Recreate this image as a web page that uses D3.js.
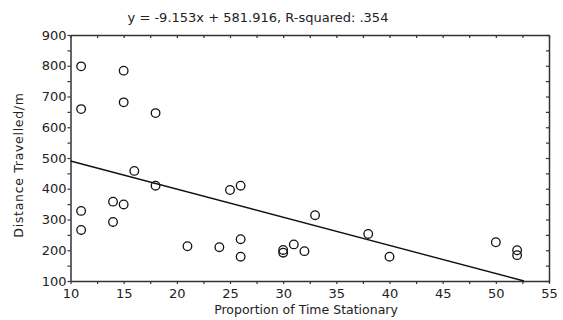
<!DOCTYPE html>
<html lang="en">
<head>
<meta charset="UTF-8">
<title>Distance vs Time Stationary</title>
<script src="https://cdn.jsdelivr.net/npm/d3@7"></script>
<style>
  body { margin: 0; background: #fff; }
  text { font-family: "DejaVu Sans", sans-serif; fill: #222; }
</style>
</head>
<body>
<script>
const stationary = [11, 11, 15, 15, 18, 11, 11, 14, 14, 15, 16, 18, 21, 24, 25, 26, 26, 26, 30, 30, 31, 32, 33, 38, 40, 50, 52, 52];
const distance = [798, 659, 784, 681, 646, 328, 266, 358, 292, 349, 458, 410, 213, 210, 396, 410, 236, 179, 201, 192, 219, 197, 314, 253, 179, 226, 200, 184];
const xTicks = [10, 15, 20, 25, 30, 35, 40, 45, 50, 55];
const yTicks = [100, 200, 300, 400, 500, 600, 700, 800, 900];
const slope = -9.153, intercept = 581.916;
const title = "y = -9.153x + 581.916, R-squared: .354";

const width = 563, height = 320;
const m = { left: 70.5, right: 14, top: 35, bottom: 39 };

const svg = d3.select("body").append("svg")
    .attr("width", width)
    .attr("height", height);

const x = d3.scaleLinear().domain([10, 55]).range([m.left, width - m.right]);
const y = d3.scaleLinear().domain([100, 900]).range([height - m.bottom, m.top]);

const minorX = d3.range(10, 55.01, 2.5);
const minorY = d3.range(100, 900.01, 50);

const style = g => {
    g.select(".domain").attr("stroke", "#333").attr("stroke-width", 1.5);
    g.selectAll(".tick line").attr("stroke", "#333").attr("stroke-width", 1.2);
};

// bottom + left frame with labels
svg.append("g")
    .attr("transform", `translate(0,${y(100)})`)
    .call(d3.axisBottom(x).tickValues(minorX).tickSize(3).tickSizeOuter(0).tickFormat(""))
    .call(style);
svg.append("g")
    .attr("transform", `translate(0,${y(100)})`)
    .call(d3.axisBottom(x).tickValues(xTicks).tickSize(0).tickPadding(8).tickFormat(d3.format("d")))
    .call(g => g.select(".domain").remove())
    .call(g => g.selectAll("text").style("font-size", "13px"));

svg.append("g")
    .attr("transform", `translate(${x(10)},0)`)
    .call(d3.axisLeft(y).tickValues(minorY).tickSize(3).tickSizeOuter(0).tickFormat(""))
    .call(style);
svg.append("g")
    .attr("transform", `translate(${x(10)},0)`)
    .call(d3.axisLeft(y).tickValues(yTicks).tickSize(0).tickPadding(4).tickFormat(d3.format("d")))
    .call(g => g.select(".domain").remove())
    .call(g => g.selectAll("text").style("font-size", "13px"));

// top + right frame, ticks only
svg.append("g")
    .attr("transform", `translate(0,${y(900)})`)
    .call(d3.axisBottom(x).tickValues(minorX).tickSize(3).tickSizeOuter(0).tickFormat(""))
    .call(style);

svg.append("g")
    .attr("transform", `translate(${x(55)},0)`)
    .call(d3.axisLeft(y).tickValues(minorY).tickSize(3).tickSizeOuter(0).tickFormat(""))
    .call(style);

// regression line, clipped to the plot frame
const xEnd = Math.min(55, (100 - intercept) / slope);
svg.append("line")
    .attr("x1", x(10)).attr("y1", y(slope * 10 + intercept))
    .attr("x2", x(xEnd)).attr("y2", y(slope * xEnd + intercept))
    .attr("stroke", "#111")
    .attr("stroke-width", 1.4);

svg.append("g")
    .selectAll("circle")
    .data(stationary.map((s, i) => [s, distance[i]]))
    .join("circle")
    .attr("cx", d => x(d[0]))
    .attr("cy", d => y(d[1]))
    .attr("r", 4.3)
    .attr("fill", "none")
    .attr("stroke", "#111")
    .attr("stroke-width", 1.3);

svg.append("text")
    .attr("x", 258)
    .attr("y", 22)
    .attr("text-anchor", "middle")
    .style("font-size", "13px")
    .text(title);

svg.append("text")
    .attr("x", 306)
    .attr("y", 314)
    .attr("text-anchor", "middle")
    .style("font-size", "12.5px")
    .text("Proportion of Time Stationary");

svg.append("text")
    .attr("transform", `translate(23,165) rotate(-90)`)
    .attr("text-anchor", "middle")
    .style("font-size", "12.5px")
    .style("letter-spacing", "0.7px")
    .text("Distance Travelled/m");
</script>
</body>
</html>
